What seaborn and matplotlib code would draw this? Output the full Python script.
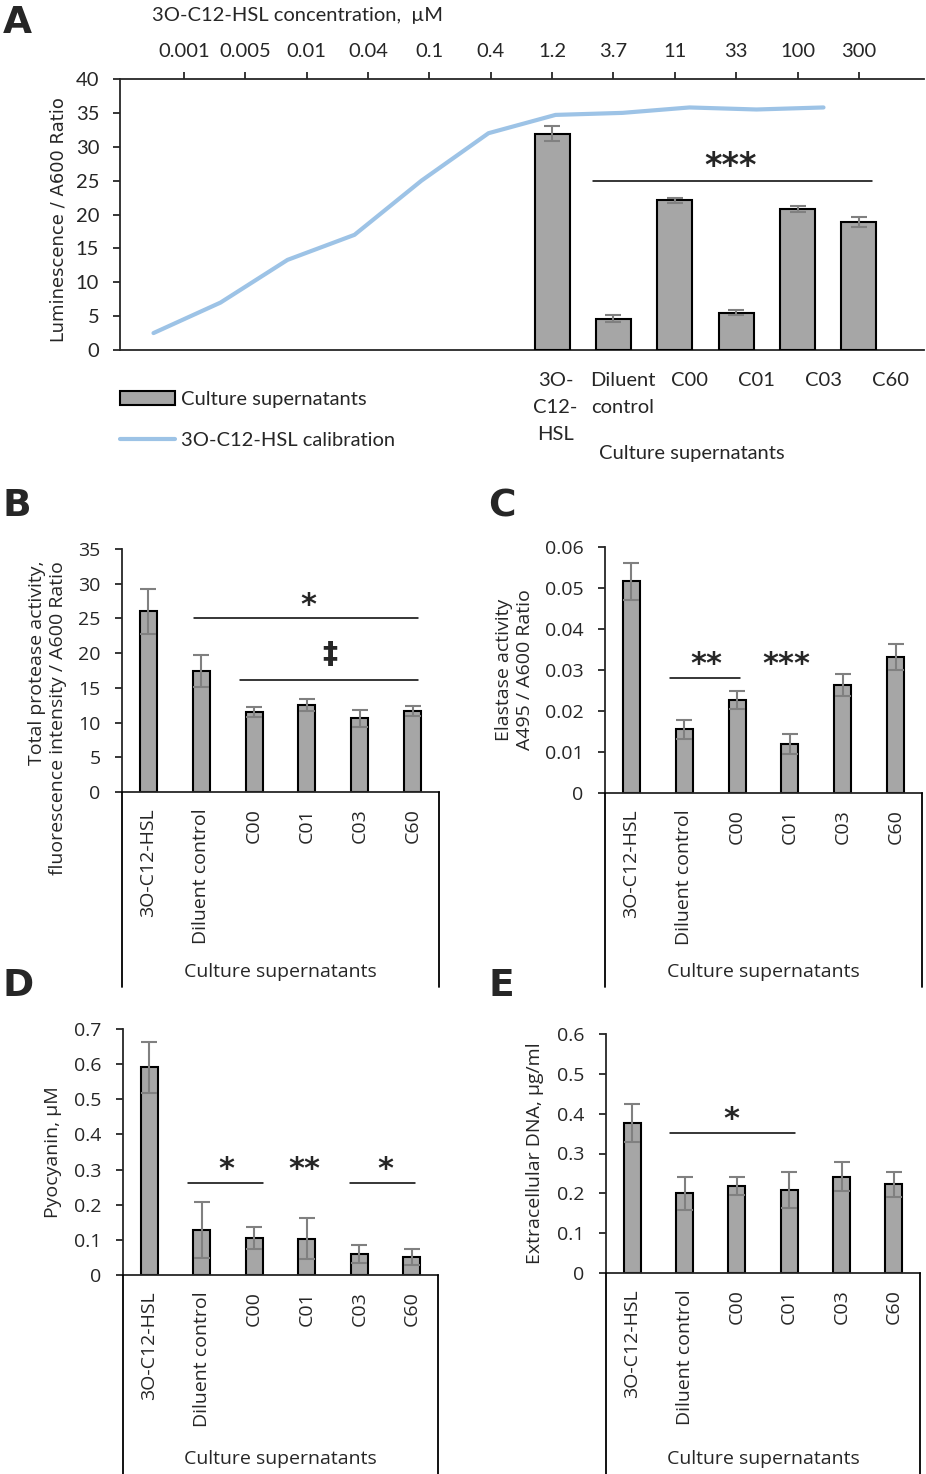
import numpy as np
import pandas as pd
import matplotlib
matplotlib.use("Agg")
import matplotlib.pyplot as plt
import seaborn as sns
from matplotlib.lines import Line2D
from matplotlib.patches import Patch
from matplotlib.ticker import FuncFormatter

# ---------------- data ----------------
conc_labels = ['0.001', '0.005', '0.01', '0.04', '0.1', '0.4', '1.2', '3.7', '11', '33', '100', '300']
calib_values = [2.5, 7.0, 13.3, 17.0, 25.0, 32.0, 34.7, 35.0, 35.8, 35.5, 35.8]
samples_A = ['3O-\nC12-\nHSL', 'Diluent\ncontrol', 'C00', 'C01', 'C03', 'C60']
lum_means = [31.9, 4.6, 22.1, 5.5, 20.8, 18.9]
lum_err = [1.1, 0.5, 0.4, 0.4, 0.4, 0.7]

samples = ['3O-C12-HSL', 'Diluent control', 'C00', 'C01', 'C03', 'C60']
protease_means = [26.0, 17.45, 11.5, 12.5, 10.6, 11.7]
protease_err = [3.3, 2.35, 0.7, 0.9, 1.2, 0.75]
elastase_means = [0.0516, 0.0155, 0.0228, 0.0120, 0.0263, 0.0332]
elastase_err = [0.0046, 0.0024, 0.0022, 0.0024, 0.0027, 0.0032]
pyo_means = [0.591, 0.127, 0.106, 0.103, 0.060, 0.052]
pyo_err = [0.073, 0.080, 0.032, 0.058, 0.025, 0.023]
edna_means = [0.376, 0.200, 0.219, 0.208, 0.242, 0.223]
edna_err = [0.048, 0.041, 0.023, 0.045, 0.037, 0.031]

# significance marks: (x_start, x_end, y_line) and (x_text, text, y_ref)
sig_A_lines = [(6.67, 11.21, 24.9)]
sig_A_text = [(8.91, '***')]
sig_B_lines = [(0.86, 5.1, 25.0), (1.73, 5.1, 16.2)]
sig_B_text = [(3.02, '*', 25.0), (3.44, '\u2021', 16.2)]
sig_C_lines = [(0.73, 2.06, 0.0281)]
sig_C_text = [(1.41, '**', 0.0281), (2.93, '***', 0.0281)]
sig_D_lines = [(0.74, 2.17, 0.263), (3.82, 5.06, 0.263)]
sig_D_text = [(1.46, '*', 0.263), (2.95, '**', 0.263), (4.49, '*', 0.263)]
sig_E_lines = [(0.73, 3.11, 0.351)]
sig_E_text = [(1.89, '*', 0.351)]

# ---------------- style ----------------
sns.set_style("ticks")
plt.rcParams['font.family'] = ['Open Sans', 'DejaVu Sans']
plt.rcParams['axes.linewidth'] = 1.3

BAR = '#a6a6a6'
ERR = '#808080'
LINE = '#9dc3e6'
W, H = 926, 1474
fig = plt.figure(figsize=(W / 100, H / 100), dpi=100)


def rect(l, t, r, b):
    return [l / W, 1 - b / H, (r - l) / W, (b - t) / H]


FA = ['Lato', 'DejaVu Sans']
FS_A = 14.5

# ---------------- panel A ----------------
ax = fig.add_axes(rect(120, 79, 924, 350))
sns.lineplot(x=np.arange(len(calib_values)), y=calib_values, ax=ax, color=LINE, linewidth=3)
ax.set_xlim(-0.5, len(conc_labels) - 0.5)
ax.set_xticks(np.arange(len(conc_labels)))
ax.set_xticklabels([''] * (len(conc_labels) - len(samples_A)) + samples_A,
                   family=FA, fontsize=FS_A, linespacing=1.72)
ax.tick_params(axis='x', length=0, pad=16)
ax.set_ylim(0, 40)
ax.set_yticks(np.arange(0, 41, 5))
ax.set_yticklabels([str(v) for v in range(0, 41, 5)], family=FA, fontsize=FS_A)
ax.tick_params(axis='y', length=5, width=1.3, pad=10, direction='out')
ax.set_ylabel('Luminescence / A600 Ratio', family=['DejaVu Sans'], fontsize=13)
ax.yaxis.set_label_coords(-0.065, 0.48)
ax.spines['top'].set_visible(False)
ax.spines['right'].set_visible(False)
ax.set_xlabel('')

ax2 = ax.twiny()
dfA = pd.DataFrame({'pos': conc_labels[len(conc_labels) - len(lum_means):], 'value': lum_means})
sns.barplot(data=dfA, x='pos', y='value', order=conc_labels, ax=ax2, color=BAR, saturation=1,
            edgecolor='black', linewidth=1.5, width=0.57, errorbar=None)
centers = [p.get_x() + p.get_width() / 2 for p in ax2.patches]
ax2.errorbar(centers, lum_means, yerr=lum_err, fmt='none', ecolor=ERR, elinewidth=1.5,
             capsize=6, capthick=1.5, zorder=5)
ax2.set_xlim(-1.04, 12.06)
ax2.set_ylim(0, 40)
ax2.set_xlabel('')
ax2.set_ylabel('')
ax2.xaxis.set_ticks_position('top')
ax2.set_xticks(np.arange(len(conc_labels)))
ax2.set_xticklabels(conc_labels, family=FA, fontsize=FS_A)
ax2.tick_params(axis='x', top=True, bottom=False, labeltop=True, labelbottom=False,
                length=5, width=1.3, pad=9, direction='out')
ax2.tick_params(axis='y', left=False, right=False, labelleft=False, labelright=False)
for s in ['left', 'right', 'bottom']:
    ax2.spines[s].set_visible(False)
ax2.spines['top'].set_visible(True)
for x0, x1, y in sig_A_lines:
    ax2.plot([x0, x1], [y, y], color='black', lw=1.1)
for x, t in sig_A_text:
    ax2.annotate(t, xy=(x, sig_A_lines[0][2]), xytext=(0, 3.5), textcoords='offset points',
                 ha='center', va='baseline', fontsize=24, fontweight='bold', family=['DejaVu Sans'])

fig.text(297 / W, 1 - 15 / H, '3O-C12-HSL concentration,  \u00b5M', ha='center', va='center',
         family=FA, fontsize=FS_A)
fig.text(692 / W, 1 - 453 / H, 'Culture supernatants', ha='center', va='center',
         family=FA, fontsize=FS_A)
leg_handles = [Patch(facecolor=BAR, edgecolor='black', linewidth=1.5),
               Line2D([], [], color=LINE, lw=3)]
fig.legend(leg_handles, ['Culture supernatants', '3O-C12-HSL calibration'],
           loc='upper left', bbox_to_anchor=(120 / W, 1 - 391 / H), frameon=False,
           borderpad=0, borderaxespad=0, handlelength=2.75, handleheight=0.7,
           handletextpad=0.3, labelspacing=1.2, prop={'family': FA, 'size': FS_A})

# ---------------- panels B-E ----------------
FS = 14


def bar_panel(box, means, errs, ylim, step, ylabel, lab_xy, box_bottom, lines, texts,
              multi='center'):
    l, t, r, b = box
    a = fig.add_axes(rect(l, t, r, b))
    df = pd.DataFrame({'sample': samples, 'value': means})
    sns.barplot(data=df, x='sample', y='value', ax=a, color=BAR, saturation=1,
                edgecolor='black', linewidth=1.5, width=0.32, errorbar=None)
    cs = [p.get_x() + p.get_width() / 2 for p in a.patches]
    a.errorbar(cs, means, yerr=errs, fmt='none', ecolor=ERR, elinewidth=1.5,
               capsize=6, capthick=1.5, zorder=5)
    a.set_xlim(-0.5, len(samples) - 0.5)
    a.set_ylim(0, ylim)
    a.set_yticks(np.arange(0, ylim + step / 2, step))
    a.yaxis.set_major_formatter(FuncFormatter(lambda v, p: '0' if abs(v) < 1e-12 else f'{v:g}'))
    a.tick_params(axis='y', length=5, width=1.3, pad=10.5, labelsize=FS, direction='out')
    a.tick_params(axis='x', length=0, pad=11.5, labelsize=FS, labelrotation=90)
    a.set_xlabel('')
    a.set_ylabel(ylabel, fontsize=FS, multialignment=multi)
    a.yaxis.set_label_coords(*lab_xy)
    a.spines['top'].set_visible(False)
    a.spines['right'].set_visible(False)
    # category box lines
    for xp in (l, r):
        fig.add_artist(Line2D([xp / W, xp / W], [1 - b / H, 1 - box_bottom / H],
                              transform=fig.transFigure, color='black', lw=1.3))
    fig.text((l + r) / 2 / W, 1 - (box_bottom - 15) / H, 'Culture supernatants',
             ha='center', va='center', fontsize=FS)
    for x0, x1, y in lines:
        a.plot([x0, x1], [y, y], color='black', lw=1.1)
    for x, tx, y in texts:
        if tx == '\u2021':
            a.annotate(tx, xy=(x, y), xytext=(0, 12), textcoords='offset points', ha='center',
                       va='baseline', fontsize=22, fontweight='bold', family=['DejaVu Sans'])
        else:
            a.annotate(tx, xy=(x, y), xytext=(0, 3.5), textcoords='offset points', ha='center',
                       va='baseline', fontsize=22, fontweight='bold', family=['DejaVu Sans'])
    return a


bar_panel((122, 549, 439, 792), protease_means, protease_err, 35, 5,
          'Total protease activity,\nfluorescence intensity / A600 Ratio', (-0.174, 0.305), 987,
          sig_B_lines, sig_B_text, multi='right')
bar_panel((605, 547, 922, 793), elastase_means, elastase_err, 0.06, 0.01,
          'Elastase activity\nA495 / A600 Ratio', (-0.224, 0.5), 987,
          sig_C_lines, sig_C_text)
bar_panel((123, 1029, 438, 1275), pyo_means, pyo_err, 0.7, 0.1,
          'Pyocyanin, \u00b5M', (-0.194, 0.5), 1474, sig_D_lines, sig_D_text)
bar_panel((606, 1034, 920, 1273), edna_means, edna_err, 0.6, 0.1,
          'Extracellular DNA, \u00b5g/ml', (-0.197, 0.5), 1474, sig_E_lines, sig_E_text)

# panel letters
for ch, x, y in [('A', 3, 5), ('B', 2, 488), ('C', 488, 488), ('D', 2, 968), ('E', 488, 968)]:
    fig.text(x / W, 1 - y / H, ch, ha='left', va='top', fontsize=27, fontweight='heavy',
             family=['DejaVu Sans'])

fig.savefig('out.png', dpi=100)
